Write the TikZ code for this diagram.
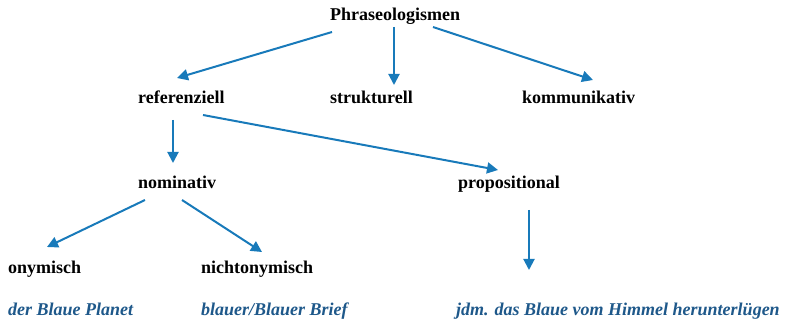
\documentclass[tikz,border=0pt]{standalone}
\usepackage{fontspec}
\setmainfont{Liberation Serif}
\usetikzlibrary{arrows.meta}
\definecolor{arrowblue}{RGB}{24,122,186}
\definecolor{exblue}{RGB}{30,88,138}

\begin{document}
\begin{tikzpicture}[x=1pt, y=-1pt,
    every node/.style = {anchor=base west, inner sep=0pt, font=\fontsize{18}{20}\selectfont\bfseries},
    ex/.style = {font=\fontsize{18}{20}\selectfont\bfseries\itshape, text=exblue},
    arr/.style = {draw=arrowblue, line width=2pt, -{Triangle[length=11pt,width=11pt]}}]
  \useasboundingbox (0,0) rectangle (785,323);
  % categories
  \node (phr) at (330,21) {Phraseologismen};
  \node (ref) at (138,104) {referenziell};
  \node (str) at (330,104) {strukturell};
  \node (kom) at (522,104) {kommunikativ};
  \node (nom) at (138,189) {nominativ};
  \node (pro) at (458,189) {propositional};
  \node (ony) at (8,274) {onymisch};
  \node (nic) at (201,274) {nichtonymisch};
  % examples
  \node[ex] (ex1) at (8,316) {der Blaue Planet};
  \node[ex] (ex2) at (201,316) {blauer/Blauer Brief};
  \node[ex] (ex3) at (456,316) {jdm. das Blaue vom Himmel herunterlügen};
  % arrows
  \draw[arr] ([shift={(2,11)}]phr.base west) -- ([shift={(39,-26)}]ref.base west);
  \draw[arr] ([shift={(64,6)}]phr.base west) -- ([shift={(64,-19)}]str.base west);
  \draw[arr] ([shift={(103,6)}]phr.base west) -- ([shift={(71,-24)}]kom.base west);
  \draw[arr] ([shift={(35,16)}]ref.base west) -- ([shift={(35,-26)}]nom.base west);
  \draw[arr] ([shift={(65,11)}]ref.base west) -- ([shift={(40,-19)}]pro.base west);
  \draw[arr] ([shift={(7,11)}]nom.base west) -- ([shift={(39,-27)}]ony.base west);
  \draw[arr] ([shift={(44,11)}]nom.base west) -- ([shift={(61,-22)}]nic.base west);
  \draw[arr] ([shift={(71,21)}]pro.base west) -- ([shift={(73,-46)}]ex3.base west);
\end{tikzpicture}
\end{document}
